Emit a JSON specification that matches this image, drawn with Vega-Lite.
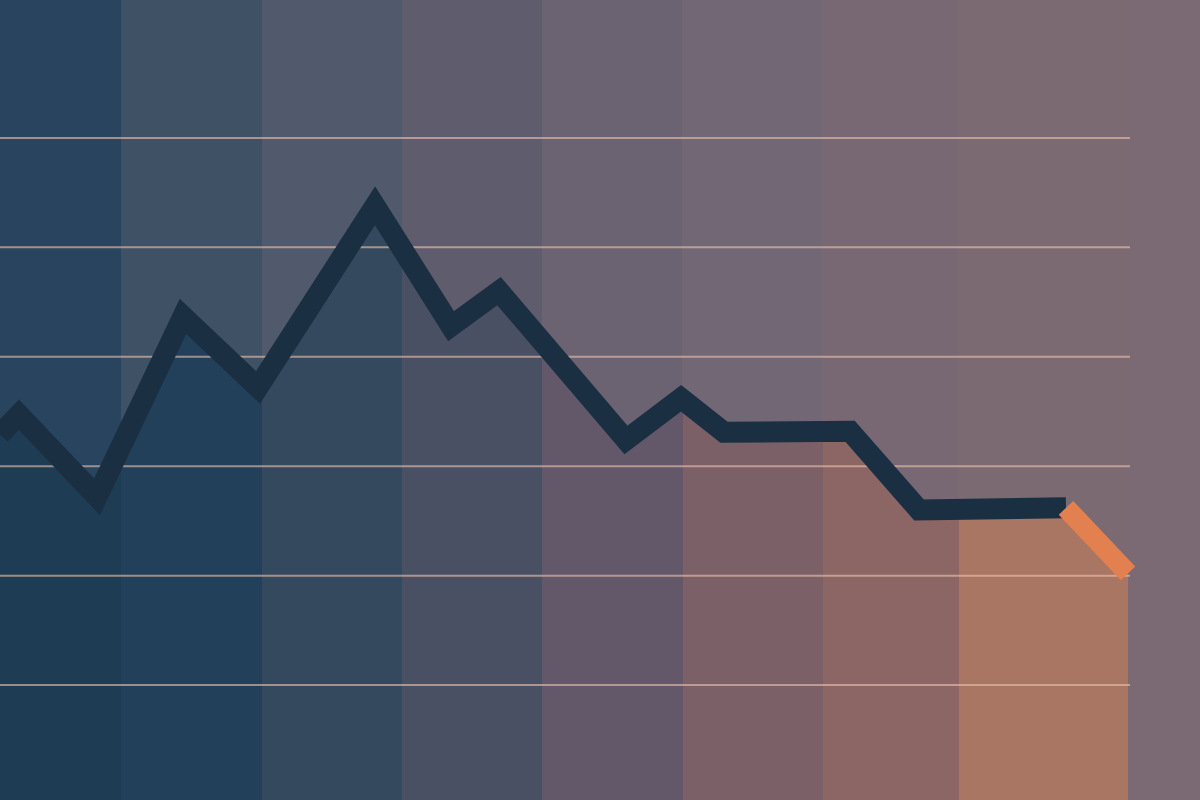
{
  "$schema": "https://vega.github.io/schema/vega-lite/v6.json",
  "width": 1200,
  "height": 800,
  "autosize": {"type": "none"},
  "padding": 0,
  "background": "#7b6a73",
  "config": {"view": {"stroke": null}, "axis": {"disable": true}},
  "datasets": {
    "periods": [
      {"period": "P1", "start": 0, "end": 12.1},
      {"period": "P2", "start": 12.1, "end": 26.2},
      {"period": "P3", "start": 26.2, "end": 40.2},
      {"period": "P4", "start": 40.2, "end": 54.2},
      {"period": "P5", "start": 54.2, "end": 68.2},
      {"period": "P6", "start": 68.2, "end": 82.2},
      {"period": "P7", "start": 82.2, "end": 95.8},
      {"period": "P8", "start": 95.8, "end": 113}
    ],
    "trend": [
      {"t": 0, "value": 22.9},
      {"t": 1.9, "value": 24.7},
      {"t": 9.7, "value": 17.2},
      {"t": 18.3, "value": 33.7},
      {"t": 25.8, "value": 27.2},
      {"t": 37.5, "value": 43.8},
      {"t": 45.1, "value": 32.8},
      {"t": 49.9, "value": 36.0},
      {"t": 62.6, "value": 22.4},
      {"t": 68.1, "value": 26.2},
      {"t": 72.4, "value": 23.1},
      {"t": 85.0, "value": 23.2},
      {"t": 91.9, "value": 16.0},
      {"t": 106.6, "value": 16.2},
      {"t": 112.8, "value": 10.2}
    ],
    "levels": [
      {"level": 0}, {"level": 10}, {"level": 20},
      {"level": 30}, {"level": 40}, {"level": 50}
    ]
  },
  "layer": [
    {
      "data": {"name": "periods"},
      "mark": {"type": "rect"},
      "encoding": {
        "x": {"field": "start", "type": "quantitative", "scale": {"domain": [0, 120], "nice": false, "zero": false}, "axis": null},
        "x2": {"field": "end"},
        "y": {"datum": 62.6, "type": "quantitative", "scale": {"domain": [-10.5, 62.6], "nice": false, "zero": false}, "axis": null},
        "y2": {"datum": -10.5},
        "color": {
          "field": "period",
          "type": "nominal",
          "scale": {
            "domain": ["P1", "P2", "P3", "P4", "P5", "P6", "P7", "P8"],
            "range": ["#29445e", "#3f5165", "#515a6d", "#5f5c6e", "#6b6372", "#726774", "#776873", "#7c6a73"]
          },
          "legend": null
        }
      }
    },
    {
      "data": {"name": "trend"},
      "mark": {
        "type": "area",
        "color": {
          "gradient": "linear",
          "x1": 0, "y1": 0, "x2": 1, "y2": 0,
          "stops": [
            {"offset": 0, "color": "#1f3c55"},
            {"offset": 0.1074, "color": "#1f3c55"},
            {"offset": 0.1074, "color": "#23405a"},
            {"offset": 0.2325, "color": "#23405a"},
            {"offset": 0.2325, "color": "#35495e"},
            {"offset": 0.3567, "color": "#35495e"},
            {"offset": 0.3567, "color": "#4a5064"},
            {"offset": 0.4809, "color": "#4a5064"},
            {"offset": 0.4809, "color": "#62586a"},
            {"offset": 0.6052, "color": "#62586a"},
            {"offset": 0.6052, "color": "#7b6067"},
            {"offset": 0.7294, "color": "#7b6067"},
            {"offset": 0.7294, "color": "#8b6664"},
            {"offset": 0.85, "color": "#8b6664"},
            {"offset": 0.85, "color": "#a87663"},
            {"offset": 1, "color": "#a87663"}
          ]
        }
      },
      "encoding": {
        "x": {"field": "t", "type": "quantitative", "axis": null},
        "y": {"field": "value", "type": "quantitative", "axis": null},
        "y2": {"datum": -10.5}
      }
    },
    {
      "mark": {
        "type": "rect",
        "color": {
          "gradient": "linear",
          "x1": 0, "y1": 0, "x2": 0, "y2": 1,
          "stops": [
            {"offset": 0, "color": "rgba(255,240,235,0.04)"},
            {"offset": 0.35, "color": "rgba(0,0,0,0)"},
            {"offset": 1, "color": "rgba(6,16,28,0.32)"}
          ]
        }
      },
      "encoding": {
        "x": {"datum": 0, "type": "quantitative", "axis": null},
        "x2": {"datum": 68.2},
        "y": {"datum": 62.6, "type": "quantitative", "axis": null},
        "y2": {"datum": -10.5}
      }
    },
    {
      "data": {"name": "levels"},
      "mark": {"type": "rule", "color": "#ecc0aa", "opacity": 0.62, "strokeWidth": 2},
      "encoding": {
        "x": {"datum": 0, "type": "quantitative", "axis": null},
        "x2": {"datum": 113},
        "y": {"field": "level", "type": "quantitative", "axis": null}
      }
    },
    {
      "data": {"name": "trend"},
      "transform": [{"filter": "datum.t <= 106.6"}],
      "mark": {"type": "line", "color": "#1b2f43", "strokeWidth": 21, "strokeJoin": "miter", "strokeCap": "butt", "clip": true},
      "encoding": {
        "x": {"field": "t", "type": "quantitative", "axis": null},
        "y": {"field": "value", "type": "quantitative", "axis": null}
      }
    },
    {
      "data": {"name": "trend"},
      "transform": [{"filter": "datum.t >= 106.6"}],
      "mark": {"type": "line", "color": "#e2804f", "strokeWidth": 20, "strokeJoin": "miter", "strokeCap": "butt"},
      "encoding": {
        "x": {"field": "t", "type": "quantitative", "axis": null},
        "y": {"field": "value", "type": "quantitative", "axis": null}
      }
    }
  ]
}
